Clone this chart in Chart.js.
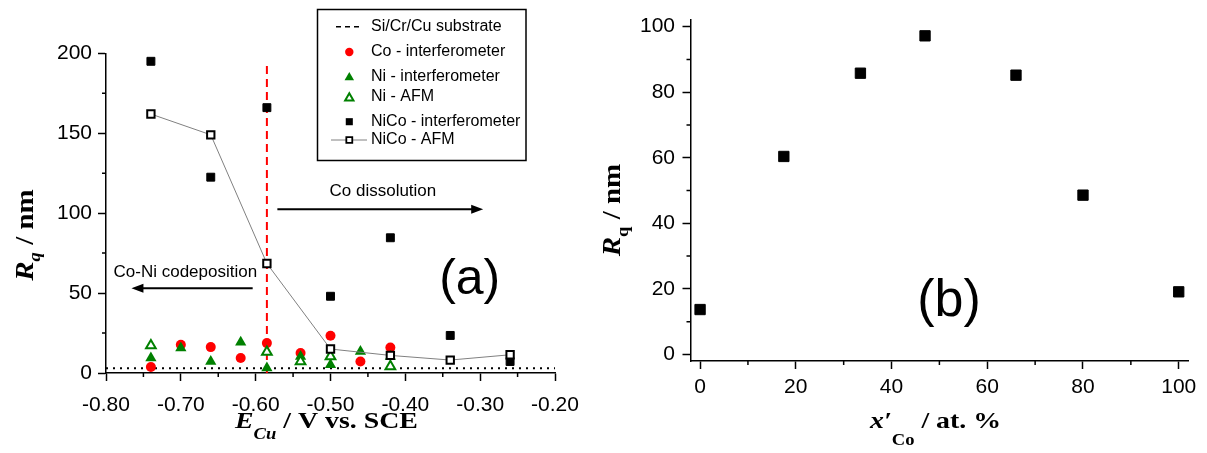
<!DOCTYPE html>
<html>
<head>
<meta charset="utf-8">
<style>
  body { margin: 0; background: #fff; }
  #boxA { position: absolute; left: 0; top: 0; }
  #boxB { position: absolute; left: 600px; top: 0; }
</style>
</head>
<body>
<div id="boxA"><canvas id="chartA" width="600" height="453"></canvas></div>
<div id="boxB"><canvas id="chartB" width="607" height="453"></canvas></div>

<script src="https://cdn.jsdelivr.net/npm/chart.js"></script>
<script>
// ---- panel (a): Rq vs. E_Cu ----
const coE   = [-0.74, -0.70, -0.66, -0.62, -0.585, -0.54, -0.50, -0.46, -0.42];
const coRq  = [3.7, 17.7, 16.2, 9.4, 18.7, 12.5, 23.3, 7.2, 16.0];
const niE   = [-0.74, -0.70, -0.66, -0.62, -0.585, -0.54, -0.50, -0.46, -0.42];
const niRq  = [9.4, 15.6, 7.2, 19.3, 3.1, 10.4, 5.2, 13.5, 10.4];
const niAfmE  = [-0.74, -0.585, -0.54, -0.50, -0.42];
const niAfmRq = [17.2, 13.1, 7.2, 10.4, 4.1];
const nicoE   = [-0.74, -0.66, -0.585, -0.50, -0.42, -0.34, -0.26];
const nicoRq  = [195, 122.5, 166, 48, 84.6, 23.5, 7.2];
const nicoAfmE  = [-0.74, -0.66, -0.585, -0.50, -0.42, -0.34, -0.26];
const nicoAfmRq = [162, 149, 68.5, 15, 11, 8.1, 11.4];
const substrateE  = [-0.80, -0.20];
const substrateRq = [3, 3];
const boundaryE  = [-0.585, -0.585];
const boundaryRq = [0, 195];

const xTicksA  = [-0.80, -0.75, -0.70, -0.65, -0.60, -0.55, -0.50, -0.45, -0.40, -0.35, -0.30, -0.25, -0.20];
const xLabelsA = ['-0.80', '-0.70', '-0.60', '-0.50', '-0.40', '-0.30', '-0.20'];
const yTicksA  = [0, 25, 50, 75, 100, 125, 150, 175, 200];
const yLabelsA = ['0', '50', '100', '150', '200'];

// ---- panel (b): Rq vs. Co content ----
const coFraction = [0, 17.5, 33.5, 47, 66, 80, 100];
const alloyRq    = [13.7, 60.4, 85.8, 97.2, 85.2, 48.6, 19.1];
const xTicksB  = [0, 10, 20, 30, 40, 50, 60, 70, 80, 90, 100];
const xLabelsB = ['0', '20', '40', '60', '80', '100'];
const yTicksB  = [0, 10, 20, 30, 40, 50, 60, 70, 80, 90, 100];
const yLabelsB = ['0', '20', '40', '60', '80', '100'];

const pts = (xs, ys) => xs.map((x, i) => ({ x: x, y: ys[i] }));

const SANS = "'Liberation Sans', Arial, sans-serif";
const SERIF = "'Liberation Serif', 'Times New Roman', serif";
const tickFont = { family: SANS, size: 21 };

function labelFn(labels, digits) {
  return v => {
    const s = v.toFixed(digits);
    return labels.includes(s) ? s : '';
  };
}
function majorColor(labels, digits) {
  return ctx => (ctx.tick && labels.includes(ctx.tick.value.toFixed(digits))) ? '#000' : 'rgba(0,0,0,0)';
}

function axis(min, max, tickVals, labels, digits, pad, fitFn) {
  return {
    type: 'linear', min: min, max: max,
    afterBuildTicks: s => { s.ticks = tickVals.map(v => ({ value: v })); },
    afterFit: fitFn,
    ticks: { callback: labelFn(labels, digits), font: tickFont, color: '#000', padding: pad, maxRotation: 0, autoSkip: false },
    grid: { drawOnChartArea: false, tickLength: 8, tickWidth: 1.5, tickColor: majorColor(labels, digits) },
    border: { color: '#000', width: 1.5 }
  };
}

// short minor ticks that Chart.js can't draw on its own
function minorTicks(chart, xVals, xLabels, xDigits, yVals, yLabels, yDigits) {
  const ctx = chart.ctx, xs = chart.scales.x, ys = chart.scales.y;
  ctx.save();
  ctx.strokeStyle = '#000';
  ctx.lineWidth = 1.5;
  ctx.beginPath();
  xVals.forEach(v => {
    if (xLabels.includes(v.toFixed(xDigits))) return;
    const p = xs.getPixelForValue(v);
    ctx.moveTo(p, xs.top); ctx.lineTo(p, xs.top + 4);
  });
  yVals.forEach(v => {
    if (yLabels.includes(v.toFixed(yDigits))) return;
    const p = ys.getPixelForValue(v);
    ctx.moveTo(ys.right, p); ctx.lineTo(ys.right - 4, p);
  });
  ctx.stroke();
  ctx.restore();
}

// mixed-font title (subscripts), stretched a bit wider like the original
const STRETCH = 1.16;
function drawRich(ctx, parts, x, y, center) {
  let w = 0;
  parts.forEach(p => { ctx.font = p.font; w += ctx.measureText(p.text).width; });
  ctx.save();
  ctx.translate(center ? x - w * STRETCH / 2 : x, y);
  ctx.scale(STRETCH, 1);
  ctx.textAlign = 'left';
  ctx.textBaseline = 'alphabetic';
  let cx = 0;
  parts.forEach(p => {
    ctx.font = p.font;
    ctx.fillText(p.text, cx, p.dy || 0);
    cx += ctx.measureText(p.text).width;
  });
  ctx.restore();
}

function drawArrow(ctx, x1, y, x2) {
  const d = Math.sign(x2 - x1);
  ctx.beginPath();
  ctx.moveTo(x1, y); ctx.lineTo(x2 - d * 8, y);
  ctx.stroke();
  ctx.beginPath();
  ctx.moveTo(x2, y); ctx.lineTo(x2 - d * 12, y - 4.5); ctx.lineTo(x2 - d * 12, y + 4.5);
  ctx.closePath();
  ctx.fill();
}

const TITLE = sz => 'bold ' + sz + 'px ' + SERIF;
const TITLE_I = sz => 'italic bold ' + sz + 'px ' + SERIF;

// annotations of panel (a), in data units
const arrowFrom = [-0.571, -0.604];
const arrowTo   = [-0.296, -0.766];
const arrowRq   = [102.4, 53];
const notes     = ['Co dissolution', 'Co-Ni codeposition'];
const noteE     = [-0.430, -0.694];
const noteRq    = [113.5, 63];

const decorA = {
  id: 'decorA',
  afterDraw(chart) {
    const ctx = chart.ctx, xs = chart.scales.x, ys = chart.scales.y;
    minorTicks(chart, xTicksA, xLabelsA, 2, yTicksA, yLabelsA, 0);
    ctx.save();
    ctx.fillStyle = '#000';
    ctx.strokeStyle = '#000';
    ctx.lineWidth = 2;
    for (let i = 0; i < notes.length; i++) {
      drawArrow(ctx, xs.getPixelForValue(arrowFrom[i]), ys.getPixelForValue(arrowRq[i]), xs.getPixelForValue(arrowTo[i]));
      ctx.font = '17px ' + SANS;
      ctx.textAlign = 'center';
      ctx.textBaseline = 'middle';
      ctx.fillText(notes[i], xs.getPixelForValue(noteE[i]), ys.getPixelForValue(noteRq[i]));
    }
    ctx.font = '50px ' + SANS;
    ctx.fillText('(a)', xs.getPixelForValue(-0.314), ys.getPixelForValue(58));

    // legend
    ctx.lineWidth = 1.5;
    ctx.strokeRect(317.5, 9.5, 208.5, 151);
    const lx = 349.3, tx = 371;
    ctx.font = '16px ' + SANS;
    ctx.textAlign = 'left';
    ctx.textBaseline = 'middle';
    const rows = [
      { y: 26.7, text: 'Si/Cr/Cu substrate' },
      { y: 52, text: 'Co - interferometer' },
      { y: 76.5, text: 'Ni - interferometer' },
      { y: 97, text: 'Ni - AFM' },
      { y: 121.7, text: 'NiCo - interferometer' },
      { y: 140, text: 'NiCo - AFM' }
    ];
    rows.forEach(r => { ctx.fillStyle = '#000'; ctx.fillText(r.text, tx, r.y); });
    // symbols
    ctx.setLineDash([5, 4]);
    ctx.beginPath(); ctx.moveTo(336, rows[0].y); ctx.lineTo(362, rows[0].y); ctx.stroke();
    ctx.setLineDash([]);
    const H = Chart.helpers;
    ctx.fillStyle = '#ff0000';
    H.drawPoint(ctx, { pointStyle: 'circle', radius: 4.2, rotation: 0, borderWidth: 0 }, lx, rows[1].y);
    ctx.fillStyle = '#008000';
    H.drawPoint(ctx, { pointStyle: 'triangle', radius: 5.5, rotation: 0, borderWidth: 0 }, lx, rows[2].y + 1);
    ctx.fillStyle = '#fff'; ctx.strokeStyle = '#008000'; ctx.lineWidth = 2;
    H.drawPoint(ctx, { pointStyle: 'triangle', radius: 4.8, rotation: 0, borderWidth: 2 }, lx, rows[3].y + 1);
    ctx.fillStyle = '#000';
    H.drawPoint(ctx, { pointStyle: 'rect', radius: 5, rotation: 0, borderWidth: 0 }, lx, rows[4].y);
    ctx.strokeStyle = '#808080'; ctx.lineWidth = 1;
    ctx.beginPath(); ctx.moveTo(331, rows[5].y); ctx.lineTo(367, rows[5].y); ctx.stroke();
    ctx.fillStyle = '#fff'; ctx.strokeStyle = '#000'; ctx.lineWidth = 1.8;
    H.drawPoint(ctx, { pointStyle: 'rect', radius: 4.2, rotation: 0, borderWidth: 1.8 }, lx, rows[5].y);

    // axis titles
    ctx.fillStyle = '#000';
    drawRich(ctx, [
      { text: 'E', font: TITLE_I(24) },
      { text: 'Cu', font: TITLE_I(16), dy: 11 },
      { text: ' / V vs. SCE', font: TITLE(24) }
    ], 235, 428, false);
    ctx.translate(33, 235);
    ctx.rotate(-Math.PI / 2);
    drawRich(ctx, [
      { text: 'R', font: TITLE_I(25) },
      { text: 'q', font: TITLE_I(16), dy: 7 },
      { text: ' / nm', font: TITLE(25) }
    ], 0, 0, true);
    ctx.restore();
  }
};

const decorB = {
  id: 'decorB',
  afterDraw(chart) {
    const ctx = chart.ctx, xs = chart.scales.x, ys = chart.scales.y;
    minorTicks(chart, xTicksB, xLabelsB, 0, yTicksB, yLabelsB, 0);
    ctx.save();
    ctx.fillStyle = '#000';
    ctx.font = '52px ' + SANS;
    ctx.textAlign = 'center';
    ctx.textBaseline = 'middle';
    ctx.fillText('(b)', xs.getPixelForValue(52), ys.getPixelForValue(16));
    drawRich(ctx, [
      { text: 'x', font: TITLE_I(24) },
      { text: '\u2032', font: TITLE_I(24) },
      { text: 'Co', font: TITLE(16), dy: 17 },
      { text: ' / at. %', font: TITLE(24) }
    ], 270, 428, false);
    ctx.translate(20, 210);
    ctx.rotate(-Math.PI / 2);
    drawRich(ctx, [
      { text: 'R', font: TITLE_I(25) },
      { text: 'q', font: TITLE(16), dy: 8 },
      { text: ' / nm', font: TITLE(25) }
    ], 0, 0, true);
    ctx.restore();
  }
};

const common = {
  responsive: false,
  animation: false,
  plugins: { legend: { display: false }, tooltip: { enabled: false } }
};

new Chart(document.getElementById('chartA'), {
  type: 'scatter',
  data: {
    datasets: [
      {
        label: 'NiCo - AFM', data: pts(nicoAfmE, nicoAfmRq), showLine: true,
        borderColor: '#808080', borderWidth: 1,
        pointStyle: 'rect', pointRadius: 5.2, pointBackgroundColor: '#fff',
        pointBorderColor: '#000', pointBorderWidth: 2, clip: false
      },
      {
        label: 'NiCo - interferometer', data: pts(nicoE, nicoRq),
        pointStyle: 'rect', pointRadius: 5.6, backgroundColor: '#000', borderColor: '#000', borderWidth: 1, clip: false
      },
      {
        label: 'Ni - AFM', data: pts(niAfmE, niAfmRq),
        pointStyle: 'triangle', pointRadius: 5.6, backgroundColor: '#fff', borderColor: '#008000', borderWidth: 2, clip: false
      },
      {
        label: 'Ni - interferometer', data: pts(niE, niRq),
        pointStyle: 'triangle', pointRadius: 6.5, backgroundColor: '#008000', borderColor: '#008000', borderWidth: 0, clip: false
      },
      {
        label: 'Co - interferometer', data: pts(coE, coRq),
        pointStyle: 'circle', pointRadius: 5, backgroundColor: '#ff0000', borderColor: '#ff0000', borderWidth: 0, clip: false
      },
      {
        label: 'boundary', data: pts(boundaryE, boundaryRq), showLine: true,
        borderColor: '#ff0000', borderWidth: 2, borderDash: [8, 5], pointRadius: 0
      },
      {
        label: 'Si/Cr/Cu substrate', data: pts(substrateE, substrateRq), showLine: true,
        borderColor: '#000', borderWidth: 2, borderDash: [2, 5], pointRadius: 0
      }
    ]
  },
  options: Object.assign({}, common, {
    layout: { padding: { left: 0, top: 53.3, right: 45, bottom: 0 } },
    scales: {
      x: axis(-0.8, -0.2, xTicksA, xLabelsA, 2, 12, s => { s.height = 80; }),
      y: axis(0, 200, yTicksA, yLabelsA, 0, 6, s => { s.width = 106; })
    }
  }),
  plugins: [decorA]
});

new Chart(document.getElementById('chartB'), {
  type: 'scatter',
  data: {
    datasets: [{
      label: 'Rq', data: pts(coFraction, alloyRq),
      pointStyle: 'rect', pointRadius: 7.3, backgroundColor: '#000', borderColor: '#000', borderWidth: 1, clip: false
    }]
  },
  options: Object.assign({}, common, {
    layout: { padding: { left: 0, top: 18.4, right: 18.7, bottom: 0 } },
    scales: {
      x: axis(-2, 102, xTicksB, xLabelsB, 0, 6, s => { s.height = 92; }),
      y: axis(-2, 102, yTicksB, yLabelsB, 0, 7.5, s => { s.width = 90.5; })
    }
  }),
  plugins: [decorB]
});
</script>
</body>
</html>
